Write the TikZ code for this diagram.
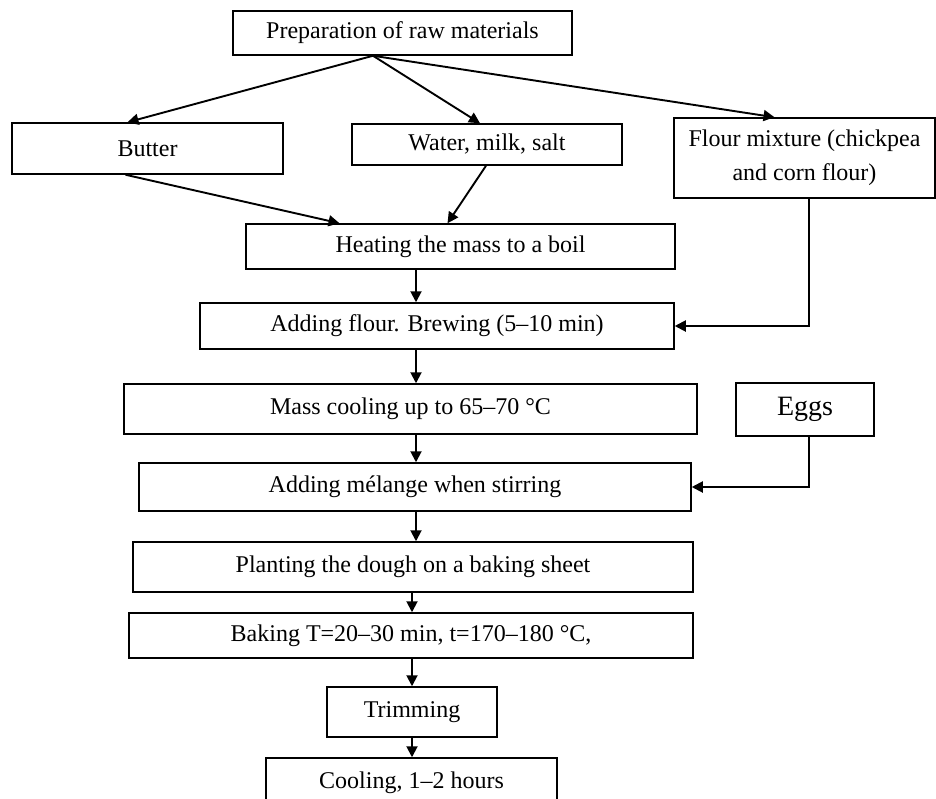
\documentclass[tikz,border=0pt]{standalone}
\usepackage{fontspec}
\setmainfont{Liberation Serif}
\usetikzlibrary{arrows.meta,calc}

\begin{document}
\begin{tikzpicture}[x=0.5pt,y=-0.5pt,
  box/.style={rectangle,draw,line width=0.75pt,inner sep=0pt,align=center,
    font=\fontsize{12}{17}\selectfont},
  arr/.style={line width=0.95pt,-{Triangle[length=5.5pt,width=5.5pt]}}]
\useasboundingbox (0,0) rectangle (936,798);

% raw materials
\node [box,minimum width=169.5pt,minimum height=22pt] (prep) at (402.5,33) {Preparation of raw materials};
\node [box,minimum width=135.5pt,minimum height=25.5pt] (butter) at (147.5,148.5) {Butter};
\node [box,minimum width=135pt,minimum height=20.5pt] (water) at (487,144.5) {Water, milk, salt};
\node [box,minimum width=130.5pt,minimum height=40pt] (flour) at (804.5,158) {Flour mixture (chickpea\\and corn flour)};
\node [box,minimum width=69pt,minimum height=26.5pt,font=\fontsize{14}{17}\selectfont] (eggs) at (805,409.5) {Eggs};

% main line
\node [box,minimum width=214.5pt,minimum height=22.5pt] (heat) at (460.5,246.5) {Heating the mass to a boil};
\node [box,minimum width=237pt,minimum height=23pt] (addflour) at (437,326) {Adding flour. Brewing (5--10 min)};
\node [box,minimum width=286.5pt,minimum height=25pt] (mass) at (410.5,409) {Mass cooling up to 65--70 °C};
\node [box,minimum width=276pt,minimum height=24pt] (melange) at (415,487) {Adding mélange when stirring};
\node [box,minimum width=280pt,minimum height=25pt] (plant) at (413,567) {Planting the dough on a baking sheet};
\node [box,minimum width=282pt,minimum height=22.5pt] (bake) at (411,635.5) {Baking T=20--30 min, t=170--180 °C,};
\node [box,minimum width=85pt,minimum height=25pt] (trim) at (412,712) {Trimming};
\node [box,minimum width=145.5pt,minimum height=25pt] (cool) at (411.5,783) {Cooling, 1--2 hours};

\coordinate (fork) at ($(prep.south)+(-29.5,0)$);
\coordinate (spine) at (416,0);

\draw[arr] (fork) -- ($(butter.north)+(-20,0)$);
\draw[arr] (fork) -- ($(water.north)+(-7,0)$);
\draw[arr] (fork) -- ($(flour.north)+(-30,0)$);
\draw[arr] ($(butter.south)+(-22,0)$) -- ($(heat.north)+(-121,0)$);
\draw[arr] ($(water.south)+(-1,0)$) -- ($(heat.north)+(-13,0)$);
\draw[arr] (heat.south -| spine) -- (addflour.north -| spine);
\draw[arr] ($(flour.south)+(4.5,0)$) |- (addflour.east);
\draw[arr] (addflour.south -| spine) -- (mass.north -| spine);
\draw[arr] (mass.south -| spine) -- (melange.north -| spine);
\draw[arr] ($(eggs.south)+(4,0)$) |- (melange.east);
\draw[arr] (melange.south -| spine) -- (plant.north -| spine);
\draw[arr] (plant.south -| trim) -- (bake.north -| trim);
\draw[arr] (bake.south -| trim) -- (trim.north);
\draw[arr] (trim.south) -- (cool.north -| trim);
\end{tikzpicture}
\end{document}
